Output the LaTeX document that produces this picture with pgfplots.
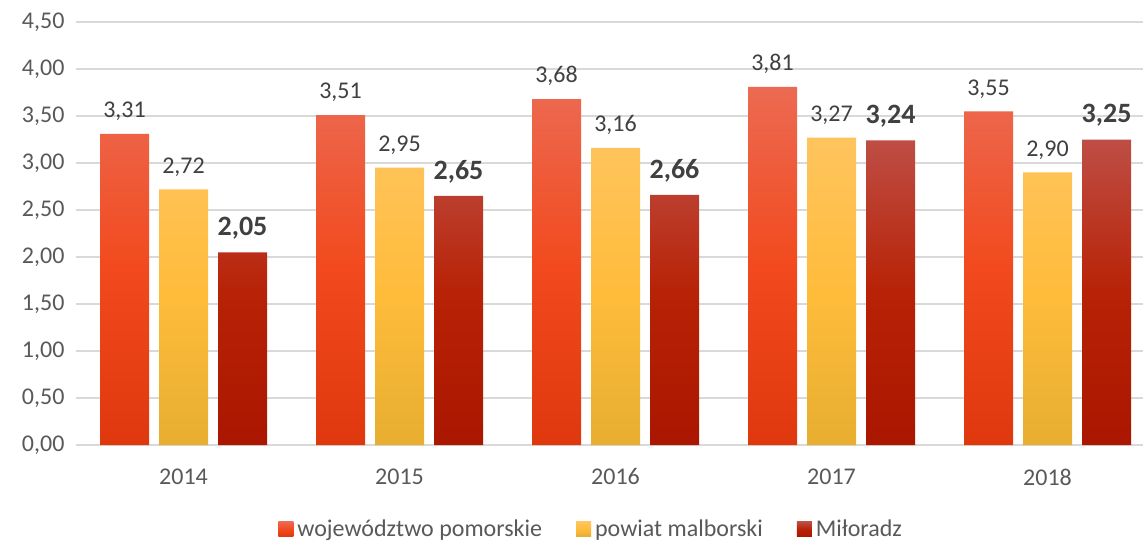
\documentclass[border=0pt]{standalone}
\usepackage{fontspec}
\setmainfont{Carlito}
\usepackage{pgfplots}
\pgfplotsset{compat=1.18}

\definecolor{rA}{HTML}{EC6A52}
\definecolor{rB}{HTML}{F24A1E}
\definecolor{rC}{HTML}{E0380E}
\definecolor{yA}{HTML}{FFC45E}
\definecolor{yB}{HTML}{FFBC3B}
\definecolor{yC}{HTML}{E7AE30}
\definecolor{dA}{HTML}{BE4E45}
\definecolor{dB}{HTML}{B82206}
\definecolor{dC}{HTML}{AA1600}
\definecolor{txt}{HTML}{595959}
\definecolor{lab}{HTML}{404040}

\begin{document}
\begin{tikzpicture}
\useasboundingbox (-37.75pt,-48pt) rectangle (533.75pt,222.5pt);
\begin{axis}[
    scale only axis,
    width=533.75pt, height=211.5pt,
    ybar=5pt, bar width=24.5pt,
    xmin=-0.5, xmax=4.442,
    ymin=0, ymax=4.5,
    ytick={0,0.5,...,4.5},
    xtick={0,1,2,3,4},
    xticklabels={2014,2015,2016,2017,2018},
    /pgf/number format/.cd, use comma, fixed, fixed zerofill, precision=2,
      assume math mode=true,
    /pgfplots/.cd,
    ymajorgrids,
    major grid style={color=black!15, line width=0.8pt},
    axis line style={draw=none},
    tick style={draw=none},
    tick label style={font=\fontsize{12}{14}\selectfont, text=txt},
    xticklabel style={yshift=-4pt},
    yticklabel style={xshift=-2pt},
    nodes near coords,
    nodes near coords style={font=\fontsize{12}{14}\selectfont, text=lab, yshift=3pt},
    legend style={at={(0.484,-0.2)}, anchor=center, draw=none,
      legend columns=-1, font=\fontsize{12}{14}\selectfont, text=txt,
      /tikz/every even column/.append style={column sep=15pt}},
    legend image code/.code={\path[#1,draw=none] (0pt,-3.5pt) rectangle (7.5pt,4pt);},
  ]
  \addplot[draw=none, top color=rA, bottom color=rC, middle color=rB]
    coordinates {(0,3.31) (1,3.51) (2,3.68) (3,3.81) (4,3.55)};
  \addplot[draw=none, top color=yA, bottom color=yC, middle color=yB]
    coordinates {(0,2.72) (1,2.95) (2,3.16) (3,3.27) (4,2.90)};
  \addplot[draw=none, top color=dA, bottom color=dC, middle color=dB,
    nodes near coords style={font=\fontsize{14}{16}\selectfont\bfseries}]
    coordinates {(0,2.05) (1,2.65) (2,2.66) (3,3.24) (4,3.25)};
  \legend{województwo pomorskie, powiat malborski, Miłoradz}
\end{axis}
\end{tikzpicture}
\end{document}
